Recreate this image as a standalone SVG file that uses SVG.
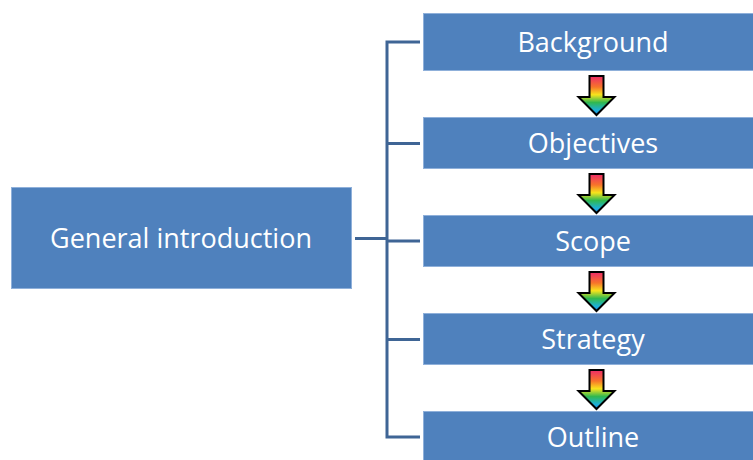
<svg xmlns="http://www.w3.org/2000/svg" width="753" height="460" viewBox="0 0 753 460">
<defs>
<linearGradient id="rb" x1="0" y1="0" x2="0" y2="1">
<stop offset="0" stop-color="#ee2a6a"/>
<stop offset="0.28" stop-color="#f7742a"/>
<stop offset="0.48" stop-color="#f8e41c"/>
<stop offset="0.68" stop-color="#30b850"/>
<stop offset="0.88" stop-color="#1cb0d8"/>
<stop offset="1" stop-color="#2080e0"/>
</linearGradient>
<path id="arr" d="M-7,0 H7 V21 H18 L0,39 L-18,21 H-7 Z" fill="url(#rb)" stroke="#000" stroke-width="2" stroke-linejoin="miter"/>
</defs>
<style>
.box{fill:#4f81bd;stroke:#8fb0da;stroke-width:1}
.t{font-family:"Open Sans","Liberation Sans",sans-serif;font-size:27px;fill:#fff;text-anchor:middle;dominant-baseline:central}
.c{fill:none;stroke:#3f6595;stroke-width:3}
</style>
<rect width="753" height="460" fill="#fff"/>
<g id="connectors">
<path class="c" d="M355,238.5 H387 M420,42 H387 V437 H420 M387,143.5 H420 M387,241 H420 M387,339.5 H420"/>
</g>
<g id="general"><rect class="box" x="11.5" y="187.5" width="340" height="101"/><text class="t" x="181" y="237">General introduction</text></g>
<g id="background"><rect class="box" x="423.5" y="13.5" width="345" height="57"/><text class="t" x="593" y="41">Background</text></g>
<g id="objectives"><rect class="box" x="423.5" y="117.5" width="345" height="51"/><text class="t" x="593" y="142">Objectives</text></g>
<g id="scope"><rect class="box" x="423.5" y="215.5" width="345" height="51"/><text class="t" x="593" y="240">Scope</text></g>
<g id="strategy"><rect class="box" x="423.5" y="313.5" width="345" height="51"/><text class="t" x="593" y="338">Strategy</text></g>
<g id="outline"><rect class="box" x="423.5" y="411.5" width="345" height="60"/><text class="t" x="593" y="436">Outline</text></g>
<g id="arrows">
<use href="#arr" x="596.5" y="76"/>
<use href="#arr" x="596.5" y="174"/>
<use href="#arr" x="596.5" y="272"/>
<use href="#arr" x="596.5" y="370"/>
</g>
</svg>
